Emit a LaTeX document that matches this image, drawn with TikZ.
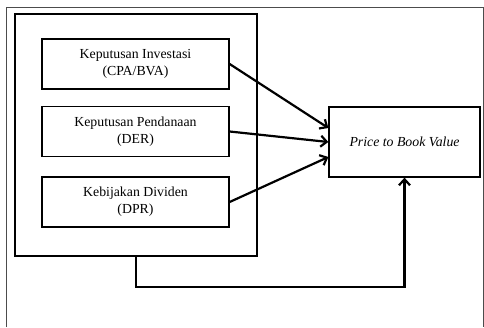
\documentclass[tikz,border=0pt]{standalone}
\usepackage{fontspec}
\setmainfont{Liberation Serif}
\usetikzlibrary{arrows.meta}
\begin{document}
\begin{tikzpicture}[x=1pt,y=-1pt,
    varbox/.style={draw,line width=1.3pt,minimum width=187pt,minimum height=50pt,align=center,inner sep=0pt,font=\fontsize{13.8}{17}\selectfont},
    arr/.style={line width=2.2pt,-{Straight Barb[length=6pt,width=11pt]}}]
            \useasboundingbox (0,0) rectangle (484,327);
            \draw[line width=0.6pt,black!70] (6,327) -- (6,7) -- (483,7) -- (483,327);

            \node[draw,line width=1.6pt,minimum width=242pt,minimum height=242pt,inner sep=0pt] (grp) at (136,135) {};
            \node[varbox] (inv) at (135.5,64) {Keputusan Investasi\\(CPA/BVA)};
            \node[varbox] (dana) at (135.5,131.5) {Keputusan Pendanaan\\(DER)};
            \node[varbox] (div) at (135.5,202) {Kebijakan Dividen\\(DPR)};
            \node[draw,line width=1.3pt,minimum width=151pt,minimum height=70pt,inner sep=0pt,font=\fontsize{13.8}{15}\selectfont\itshape] (pbv) at (404.5,142) {Price to Book Value};

            \draw[arr] (inv.east) to ([yshift=14pt]pbv.west); \draw[arr] (dana.east) to (pbv.west); \draw[arr] (div.east) to ([yshift=-15pt]pbv.west);
            \draw[arr] (grp.south) -- ++(0,30) -| (pbv.south);
        \end{tikzpicture}
\end{document}
